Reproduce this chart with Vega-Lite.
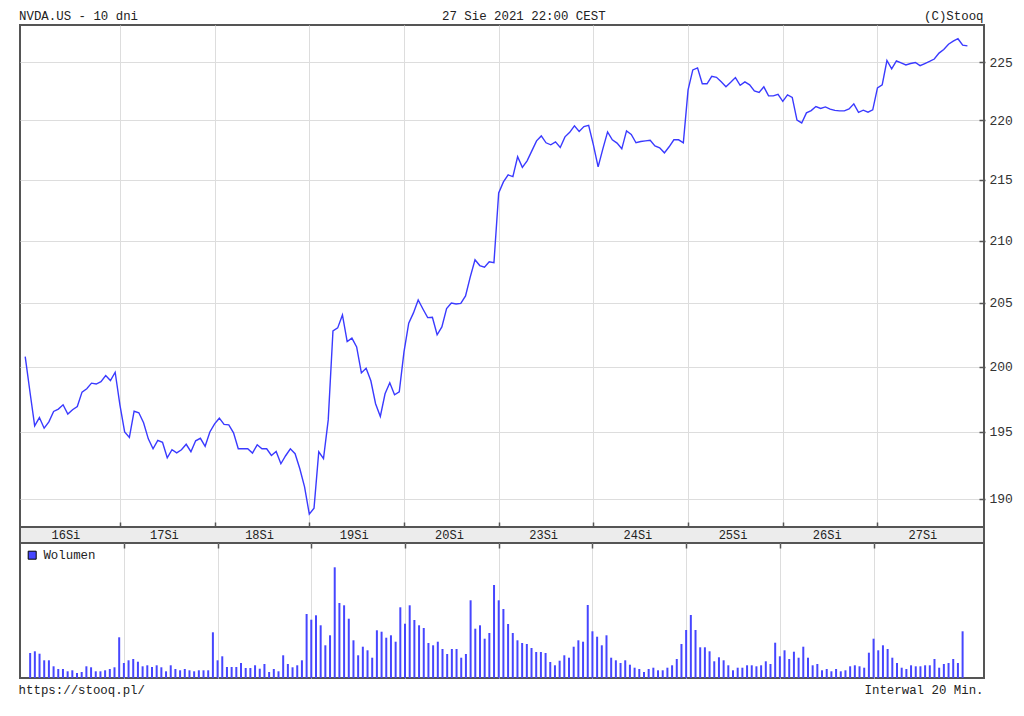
{
"$schema":"https://vega.github.io/schema/vega-lite/v6.json",
"background":"white",
"padding":{"left":18,"top":0,"right":5,"bottom":0},
"spacing":0,
"bounds":"flush",
"datasets":{
"q":[
{"i":0,"c":200.77,"v":500},{"i":1,"c":198.06,"v":534},{"i":2,"c":195.46,"v":486},{"i":3,"c":196.09,"v":354},{"i":4,"c":195.28,"v":354},{"i":5,"c":195.76,"v":234},{"i":6,"c":196.55,"v":180},{"i":7,"c":196.73,"v":180},{"i":8,"c":197.06,"v":134},{"i":9,"c":196.35,"v":154},
{"i":10,"c":196.68,"v":100},{"i":11,"c":196.93,"v":120},{"i":12,"c":198.03,"v":234},{"i":13,"c":198.29,"v":214},{"i":14,"c":198.72,"v":134},{"i":15,"c":198.65,"v":134},{"i":16,"c":198.84,"v":154},{"i":17,"c":199.30,"v":180},{"i":18,"c":198.92,"v":214},{"i":19,"c":199.56,"v":814},
{"i":20,"c":197.06,"v":300},{"i":21,"c":195.00,"v":354},{"i":22,"c":194.59,"v":380},{"i":23,"c":196.57,"v":326},{"i":24,"c":196.45,"v":234},{"i":25,"c":195.69,"v":254},{"i":26,"c":194.48,"v":220},{"i":27,"c":193.73,"v":254},{"i":28,"c":194.37,"v":214},{"i":29,"c":194.22,"v":134},
{"i":30,"c":193.06,"v":254},{"i":31,"c":193.66,"v":180},{"i":32,"c":193.43,"v":154},{"i":33,"c":193.66,"v":180},{"i":34,"c":194.07,"v":154},{"i":35,"c":193.51,"v":134},{"i":36,"c":194.33,"v":154},{"i":37,"c":194.52,"v":154},{"i":38,"c":193.92,"v":154},{"i":39,"c":195.00,"v":914},
{"i":40,"c":195.61,"v":354},{"i":41,"c":196.04,"v":434},{"i":42,"c":195.57,"v":220},{"i":43,"c":195.53,"v":220},{"i":44,"c":194.93,"v":220},{"i":45,"c":193.73,"v":300},{"i":46,"c":193.73,"v":200},{"i":47,"c":193.73,"v":200},{"i":48,"c":193.41,"v":254},{"i":49,"c":194.03,"v":186},
{"i":50,"c":193.73,"v":280},{"i":51,"c":193.73,"v":120},{"i":52,"c":193.23,"v":180},{"i":53,"c":193.53,"v":134},{"i":54,"c":192.61,"v":454},{"i":55,"c":193.21,"v":280},{"i":56,"c":193.73,"v":214},{"i":57,"c":193.36,"v":254},{"i":58,"c":192.24,"v":354},{"i":59,"c":190.90,"v":1280},
{"i":60,"c":188.89,"v":1166},{"i":61,"c":189.33,"v":1254},{"i":62,"c":193.51,"v":1054},{"i":63,"c":192.99,"v":654},{"i":64,"c":195.91,"v":854},{"i":65,"c":202.79,"v":2214},{"i":66,"c":203.02,"v":1500},{"i":67,"c":204.04,"v":1454},{"i":68,"c":201.95,"v":1186},{"i":69,"c":202.22,"v":754},
{"i":70,"c":201.53,"v":454},{"i":71,"c":199.51,"v":626},{"i":72,"c":199.87,"v":554},{"i":73,"c":198.90,"v":406},{"i":74,"c":197.14,"v":954},{"i":75,"c":196.17,"v":926},{"i":76,"c":197.90,"v":806},{"i":77,"c":198.75,"v":854},{"i":78,"c":197.83,"v":726},{"i":79,"c":198.06,"v":1414},
{"i":80,"c":201.14,"v":1086},{"i":81,"c":203.39,"v":1454},{"i":82,"c":204.20,"v":1160},{"i":83,"c":205.22,"v":1054},{"i":84,"c":204.51,"v":1000},{"i":85,"c":203.83,"v":700},{"i":86,"c":203.86,"v":654},{"i":87,"c":202.48,"v":726},{"i":88,"c":203.10,"v":580},{"i":89,"c":204.55,"v":480},
{"i":90,"c":204.98,"v":580},{"i":91,"c":204.91,"v":580},{"i":92,"c":204.96,"v":406},{"i":93,"c":205.55,"v":480},{"i":94,"c":207.07,"v":1554},{"i":95,"c":208.44,"v":986},{"i":96,"c":207.98,"v":1054},{"i":97,"c":207.85,"v":786},{"i":98,"c":208.28,"v":900},{"i":99,"c":208.22,"v":1860},
{"i":100,"c":213.92,"v":1554},{"i":101,"c":214.83,"v":1380},{"i":102,"c":215.41,"v":1080},{"i":103,"c":215.27,"v":900},{"i":104,"c":216.93,"v":754},{"i":105,"c":216.04,"v":700},{"i":106,"c":216.59,"v":680},{"i":107,"c":217.43,"v":600},{"i":108,"c":218.27,"v":520},{"i":109,"c":218.69,"v":520},
{"i":110,"c":218.11,"v":500},{"i":111,"c":217.94,"v":320},{"i":112,"c":218.19,"v":254},{"i":113,"c":217.71,"v":346},{"i":114,"c":218.61,"v":454},{"i":115,"c":218.99,"v":406},{"i":116,"c":219.54,"v":626},{"i":117,"c":219.07,"v":754},{"i":118,"c":219.48,"v":726},{"i":119,"c":219.58,"v":1460},
{"i":120,"c":217.94,"v":934},{"i":121,"c":216.08,"v":826},{"i":122,"c":217.60,"v":654},{"i":123,"c":219.03,"v":854},{"i":124,"c":218.36,"v":406},{"i":125,"c":218.08,"v":354},{"i":126,"c":217.60,"v":300},{"i":127,"c":219.12,"v":354},{"i":128,"c":218.82,"v":266},{"i":129,"c":218.11,"v":206},
{"i":130,"c":218.22,"v":180},{"i":131,"c":218.27,"v":120},{"i":132,"c":218.32,"v":180},{"i":133,"c":217.85,"v":206},{"i":134,"c":217.68,"v":154},{"i":135,"c":217.26,"v":154},{"i":136,"c":217.77,"v":206},{"i":137,"c":218.36,"v":254},{"i":138,"c":218.36,"v":380},{"i":139,"c":218.11,"v":680},
{"i":140,"c":222.63,"v":960},{"i":141,"c":224.35,"v":1260},{"i":142,"c":224.53,"v":960},{"i":143,"c":223.15,"v":614},{"i":144,"c":223.15,"v":614},{"i":145,"c":223.79,"v":534},{"i":146,"c":223.71,"v":334},{"i":147,"c":223.32,"v":414},{"i":148,"c":222.89,"v":354},{"i":149,"c":223.28,"v":254},
{"i":150,"c":223.69,"v":154},{"i":151,"c":223.02,"v":206},{"i":152,"c":223.32,"v":206},{"i":153,"c":223.06,"v":254},{"i":154,"c":222.54,"v":254},{"i":155,"c":222.40,"v":234},{"i":156,"c":222.89,"v":254},{"i":157,"c":222.11,"v":334},{"i":158,"c":222.11,"v":280},{"i":159,"c":222.24,"v":706},
{"i":160,"c":221.64,"v":434},{"i":161,"c":222.20,"v":554},{"i":162,"c":221.98,"v":380},{"i":163,"c":220.04,"v":526},{"i":164,"c":219.79,"v":406},{"i":165,"c":220.65,"v":626},{"i":166,"c":220.85,"v":406},{"i":167,"c":221.19,"v":254},{"i":168,"c":221.03,"v":280},{"i":169,"c":221.16,"v":154},
{"i":170,"c":220.97,"v":180},{"i":171,"c":220.86,"v":134},{"i":172,"c":220.82,"v":180},{"i":173,"c":220.82,"v":134},{"i":174,"c":220.99,"v":154},{"i":175,"c":221.42,"v":234},{"i":176,"c":220.69,"v":254},{"i":177,"c":220.88,"v":234},{"i":178,"c":220.71,"v":206},{"i":179,"c":220.91,"v":506},
{"i":180,"c":222.80,"v":786},{"i":181,"c":223.06,"v":554},{"i":182,"c":225.17,"v":654},{"i":183,"c":224.44,"v":580},{"i":184,"c":225.13,"v":406},{"i":185,"c":224.96,"v":300},{"i":186,"c":224.78,"v":206},{"i":187,"c":224.91,"v":180},{"i":188,"c":225.00,"v":254},{"i":189,"c":224.72,"v":234},
{"i":190,"c":224.91,"v":234},{"i":191,"c":225.09,"v":254},{"i":192,"c":225.30,"v":254},{"i":193,"c":225.82,"v":380},{"i":194,"c":226.14,"v":206},{"i":195,"c":226.60,"v":280},{"i":196,"c":226.86,"v":300},{"i":197,"c":227.08,"v":380},{"i":198,"c":226.52,"v":300},{"i":199,"c":226.45,"v":934}
],
"days":[{"p":8.6,"t":"16Si"},{"p":29.4,"t":"17Si"},{"p":49.5,"t":"18Si"},{"p":69.5,"t":"19Si"},{"p":89.6,"t":"20Si"},{"p":109.5,"t":"23Si"},{"p":129.4,"t":"24Si"},{"p":149.5,"t":"25Si"},{"p":169.4,"t":"26Si"},{"p":189.6,"t":"27Si"}]
},
"resolve":{"scale":{"color":"independent"},"legend":{"color":"independent"}},
"vconcat":[
{
"width":964,"height":25,"view":{"stroke":null},
"layer":[
{"data":{"values":[{"p":-1.3,"t":"NVDA.US - 10 dni"}]},"mark":{"type":"text","align":"left","baseline":"alphabetic","dy":7.5},
"encoding":{"x":{"field":"p","type":"quantitative","scale":{"domain":[-1.1,202.5],"nice":false,"zero":false},"axis":null},"text":{"field":"t"}}},
{"data":{"values":[{"p":105.3,"t":"27 Sie 2021 22:00 CEST"}]},"mark":{"type":"text","align":"center","baseline":"alphabetic","dy":7.5},
"encoding":{"x":{"field":"p","type":"quantitative","scale":{"domain":[-1.1,202.5],"nice":false,"zero":false},"axis":null},"text":{"field":"t"}}},
{"data":{"values":[{"p":202.4,"t":"(C)Stooq"}]},"mark":{"type":"text","align":"right","baseline":"alphabetic","dy":7.5},
"encoding":{"x":{"field":"p","type":"quantitative","scale":{"domain":[-1.1,202.5],"nice":false,"zero":false},"axis":null},"text":{"field":"t"}}}
]
},
{
"width":964,"height":502,
"data":{"name":"q"},
"mark":{"type":"line","color":"#3a3aff","strokeWidth":1.4},
"encoding":{
"x":{"field":"i","type":"quantitative","scale":{"domain":[-1.1,202.5],"nice":false,"zero":false},
"axis":{"orient":"bottom","offset":-5,"tickSize":5,"values":[20,40,60,80,100,120,140,160,180],"labels":false,"domain":false,"grid":true,"title":null}},
"y":{"field":"c","type":"quantitative","scale":{"type":"log","domain":[187.95,228.29],"nice":false,"zero":false},
"axis":{"orient":"right","offset":-5,"tickSize":6,"values":[190,195,200,205,210,215,220,225],"labelPadding":4,"domain":false,"grid":true,"title":null,"labelFontSize":13,"labelColor":"#333"}}
}
},
{
"width":964,"height":16,"view":{"fill":"#ececec","stroke":"#555","strokeWidth":2},
"data":{"name":"days"},
"mark":{"type":"text","align":"center","baseline":"middle","fontSize":12},
"encoding":{"x":{"field":"p","type":"quantitative","scale":{"domain":[-1.1,202.5],"nice":false,"zero":false},"axis":null},"text":{"field":"t"}}
},
{
"width":964,"height":135,
"data":{"name":"q"},
"mark":{"type":"bar","size":2},
"encoding":{
"x":{"field":"i","type":"quantitative","scale":{"domain":[-1.1,202.5],"nice":false,"zero":false},
"axis":{"orient":"top","offset":-5,"tickSize":5,"values":[20,40,60,80,100,120,140,160,180],"labels":false,"domain":false,"grid":true,"title":null}},
"y":{"field":"v","type":"quantitative","scale":{"domain":[0,2700],"nice":false},"axis":null},
"color":{"datum":"Wolumen","scale":{"range":["#4646ff"]},
"legend":{"orient":"top-left","offset":6,"title":null,"symbolType":"square","symbolSize":64,"labelFont":"Liberation Mono","labelFontSize":12.4,"labelColor":"#222","labelOffset":5,"padding":0,
"encode":{"symbols":{"update":{"fill":{"value":"#0000c8"},"stroke":{"value":"#000"},"strokeWidth":{"value":1}}}}}}
}
},
{
"width":964,"height":22,"view":{"stroke":null},
"layer":[
{"data":{"values":[{"p":-1.4,"t":"https://stooq.pl/"}]},"mark":{"type":"text","align":"left","baseline":"alphabetic","dy":4.5},
"encoding":{"x":{"field":"p","type":"quantitative","scale":{"domain":[-1.1,202.5],"nice":false,"zero":false},"axis":null},"text":{"field":"t"}}},
{"data":{"values":[{"p":202.4,"t":"Interwal 20 Min."}]},"mark":{"type":"text","align":"right","baseline":"alphabetic","dy":4.5},
"encoding":{"x":{"field":"p","type":"quantitative","scale":{"domain":[-1.1,202.5],"nice":false,"zero":false},"axis":null},"text":{"field":"t"}}}
]
}
],
"config":{
"view":{"stroke":"#555","strokeWidth":2},
"axis":{"gridColor":"#dddddd","gridWidth":1,"tickColor":"#555","tickWidth":1.5,"labelFont":"Liberation Mono"},
"text":{"font":"Liberation Mono","fontSize":12.4,"color":"#222"}
}
}
